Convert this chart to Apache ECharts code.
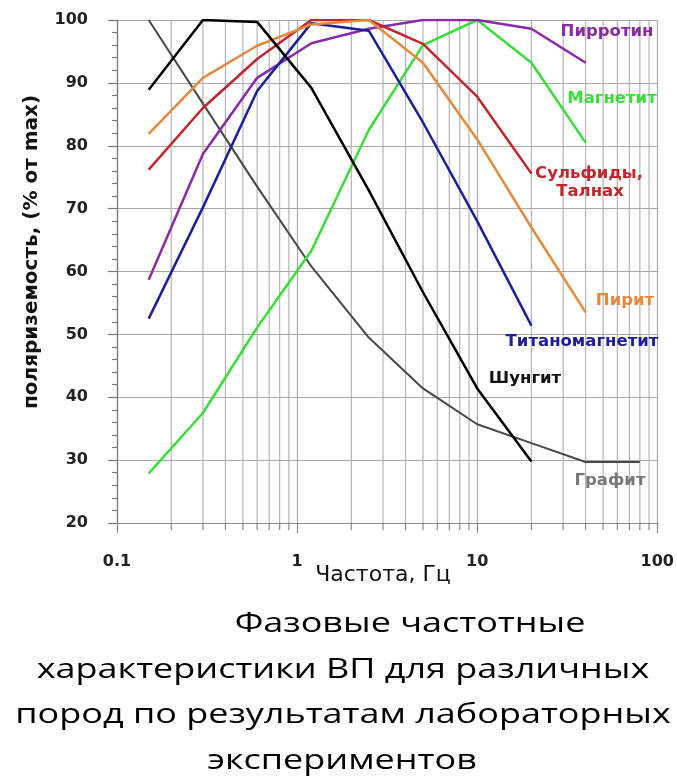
<!DOCTYPE html>
<html>
<head>
<meta charset="utf-8">
<script src="https://cdn.jsdelivr.net/npm/echarts@6/dist/echarts.min.js"></script>
<style>html,body{margin:0;padding:0;background:#fff;}#c{width:677px;height:784px;}</style>
</head>
<body>
<div id="c"></div>
<script>
// Frequencies (Hz) of the measured points
const freqs = [0.15, 0.3, 0.6, 1.2, 2.5, 5, 10, 20, 40, 80];
// Series values (% of max), null = not measured
const pirrotin   = [58.7, 78.7, 90.8, 96.3, 98.6, 100, 100, 98.6, 93.2, null];
const magnetit   = [27.9, 37.5, 51.1, 63.3, 82.5, 96.0, 100, 93.2, 80.5, null];
const sulfidy    = [76.2, 86.0, 93.8, 100, 100, 96.2, 87.8, 75.6, null, null];
const pirit      = [81.9, 90.8, 95.9, 99.3, 100, 93.2, 81.0, 67.0, 53.5, null];
const titanomag  = [52.5, 70.2, 88.7, 99.5, 98.3, 83.7, 68.0, 51.4, null, null];
const shungit    = [88.9, 100, 99.7, 89.2, 72.9, 56.7, 41.4, 29.8, null, null];
const grafit     = [100, 86.7, 73.5, 60.8, 49.5, 41.4, 35.7, 32.7, 29.7, 29.7];
// Axis ticks
const yTicks = [20, 30, 40, 50, 60, 70, 80, 90, 100];
const xMajor = [0.1, 1, 10, 100];
const xMinor = [0.2,0.3,0.4,0.5,0.6,0.7,0.8,0.9, 2,3,4,5,6,7,8,9, 20,30,40,50,60,70,80,90];

const seriesDefs = [
  {name: 'Графит', vals: grafit, color: '#474747', w: 2},
  {name: 'Магнетит', vals: magnetit, color: '#3ade3a', w: 2.5},
  {name: 'Пирротин', vals: pirrotin, color: '#8a2aa6', w: 2.5},
  {name: 'Титаномагнетит', vals: titanomag, color: '#1d1d9e', w: 2.5},
  {name: 'Сульфиды, Талнах', vals: sulfidy, color: '#c0262b', w: 2.5},
  {name: 'Пирит', vals: pirit, color: '#e8883c', w: 2.5},
  {name: 'Шунгит', vals: shungit, color: '#000000', w: 2.5}
];

const toPairs = vals => freqs.map((f, i) => [f, vals[i]]).filter(p => p[1] !== null);

const chart = echarts.init(document.getElementById('c'), null, {renderer: 'canvas'});

const lineSeries = seriesDefs.map(d => ({
  name: d.name, type: 'line', data: toPairs(d.vals), symbol: 'none',
  lineStyle: {color: d.color, width: d.w}, z: 5, animation: false
}));

const gridSeries = {
  type: 'custom', clip: false, silent: true, z: 1, animation: false,
  data: xMinor.map(v => [v, 20]),
  renderItem: function (params, api) {
    const top = api.coord([api.value(0), 100]);
    const bot = api.coord([api.value(0), 20]);
    return {type: 'group', children: [
      {type: 'line', shape: {x1: bot[0], y1: top[1], x2: bot[0], y2: bot[1]}, style: {stroke: '#b4b4b4', lineWidth: 1.2}},
      {type: 'line', shape: {x1: bot[0], y1: bot[1], x2: bot[0], y2: bot[1] + 7}, style: {stroke: '#888', lineWidth: 1.2}}
    ]};
  }
};

const lblFont = 'bold 16.5px "DejaVu Sans"';
function txt(t, x, y, color, font, extra) {
  return Object.assign({type: 'text', x: x, y: y, silent: true, z: 10,
    style: {text: t, fill: color, font: font, align: 'center', verticalAlign: 'middle', textAlign: 'center', textVerticalAlign: 'middle'}}, extra || {});
}
const titleFont = '28px "Open Sans"';
const sx = 1.285;

chart.setOption({
  animation: false,
  backgroundColor: '#fff',
  grid: {left: 117, right: 16, top: 20, bottom: 261, containLabel: false},
  xAxis: {
    type: 'log', logBase: 10, min: 0.1, max: 100,
    axisLine: {show: true, lineStyle: {color: '#888', width: 1.2}},
    axisTick: {show: true, inside: false, length: 10, lineStyle: {color: '#888', width: 1.2}},
    minorTick: {show: false},
    splitLine: {show: true, lineStyle: {color: '#a8a8a8', width: 1.2}},
    axisLabel: {margin: 31, color: '#222', fontWeight: 'bold', fontSize: 16, fontFamily: 'DejaVu Sans',
      formatter: v => xMajor.indexOf(+v) >= 0 ? String(v) : ''}
  },
  yAxis: {
    type: 'value', min: 20, max: 100, interval: 10,
    axisLine: {show: true, lineStyle: {color: '#777', width: 1.2}},
    axisTick: {show: true, inside: false, length: 9, lineStyle: {color: '#777', width: 1.2}},
    minorTick: {show: true, splitNumber: 5, length: 5, lineStyle: {color: '#777', width: 1.2}},
    splitLine: {show: true, lineStyle: {color: '#a8a8a8', width: 1.2}},
    axisLabel: {margin: 29, color: '#222', fontWeight: 'bold', fontSize: 16, fontFamily: 'DejaVu Sans',
      formatter: v => yTicks.indexOf(v) >= 0 ? String(v) : ''}
  },
  series: [gridSeries].concat(lineSeries),
  graphic: [
    txt('поляриземость, (% от max)', 32, 252, '#111', 'bold 20px "DejaVu Sans"', {rotation: Math.PI / 2}),
    txt('Частота, Гц', 383, 575, '#111', '22px "DejaVu Sans"'),
    txt('Пирротин', 607, 32, '#8a2aa6', lblFont),
    txt('Магнетит', 612, 99, '#3ade3a', lblFont),
    txt('Сульфиды,', 589, 174, '#c0262b', lblFont),
    txt('Талнах', 590, 192, '#c0262b', lblFont),
    txt('Пирит', 625, 301, '#e8883c', lblFont),
    txt('Титаномагнетит', 582, 342, '#1d1d9e', lblFont),
    txt('Шунгит', 525, 379, '#111', lblFont),
    txt('Графит', 610, 481, '#777', lblFont),
    txt('Фазовые частотные', 410, 624, '#000', titleFont, {scaleX: sx}),
    txt('характеристики ВП для различных', 343, 670, '#000', titleFont, {scaleX: sx}),
    txt('пород по результатам лабораторных', 343, 715, '#000', titleFont, {scaleX: sx}),
    txt('экспериментов', 342, 761, '#000', titleFont, {scaleX: sx})
  ]
});
</script>
</body>
</html>
